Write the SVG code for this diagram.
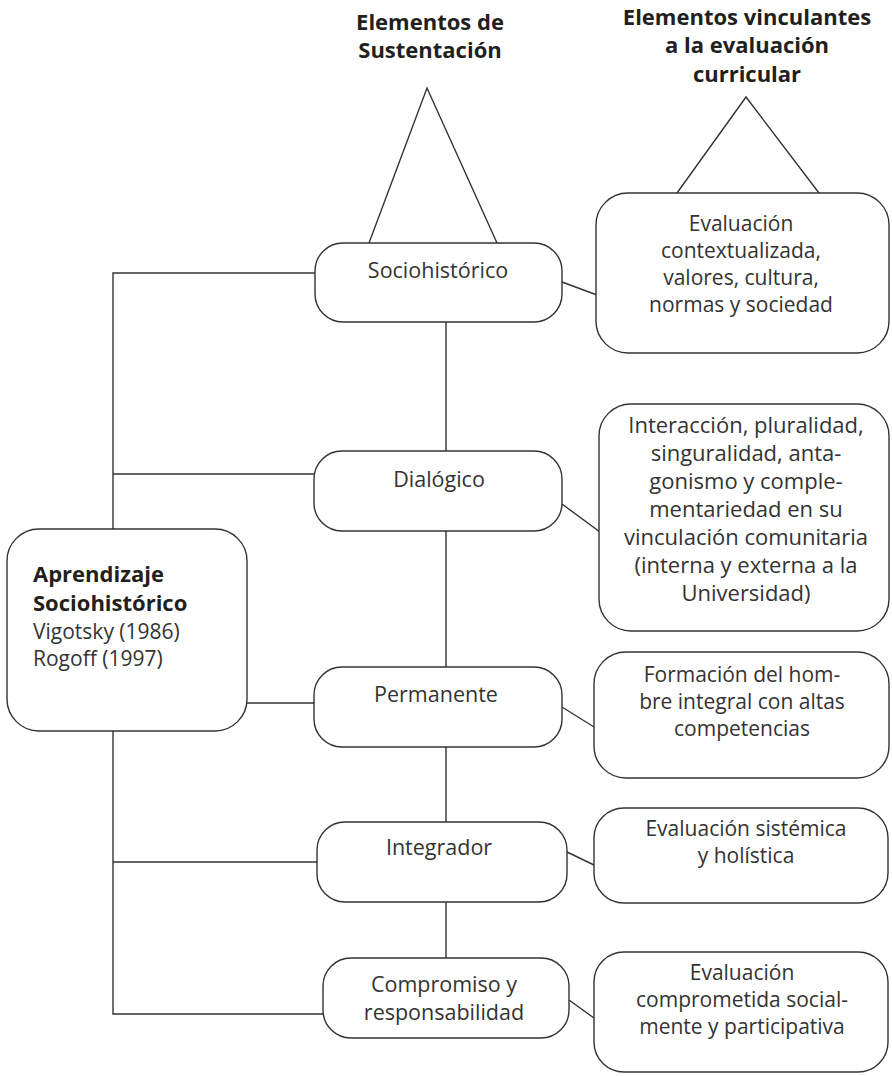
<svg xmlns="http://www.w3.org/2000/svg" width="892" height="1076" viewBox="0 0 892 1076">
<style>
.box{fill:#fff;stroke:#333;stroke-width:1.4}
.ln{fill:none;stroke:#333;stroke-width:1.4}
text{font-family:"Open Sans","Liberation Sans",sans-serif;fill:#333;font-size:21.5px}
.r{font-size:21px}
.r2{font-size:22px}
.s{font-size:21px}
.b{font-weight:bold;font-size:22px;fill:#231f20}
.c{text-anchor:middle}
</style>
<rect width="892" height="1076" fill="#fff"/>
<g id="connectors">
<polyline class="ln" points="369,243 427,88 497,243"/>
<polyline class="ln" points="677,193 746,97 819,193"/>
<path class="ln" d="M315,273 H113 V529 M113,474 H314 M113,731 V1014 H323 M113,862 H317 M247,703 H314"/>
<path class="ln" d="M446,322 V451 M446,531 V667 M446,747 V822 M446,902 V958"/>
<path class="ln" d="M562,282 L597,295 M562,504 L600,532 M562,707 L594,727 M567,852 L594,865 M569,1000 L594,1018"/>
</g>
<g id="title-left">
<text class="b c" x="430" y="30">Elementos de</text>
<text class="b c" x="430" y="58">Sustentación</text>
</g>
<g id="title-right">
<text class="b c" x="747" y="25">Elementos vinculantes</text>
<text class="b c" x="747" y="53">a la evaluación</text>
<text class="b c" x="747" y="82">curricular</text>
</g>
<g id="root">
<rect class="box" x="7" y="529" width="240" height="202" rx="32"/>
<text class="b" x="33" y="582">Aprendizaje</text>
<text class="b" x="33" y="611">Sociohistórico</text>
<text class="s" x="33" y="639">Vigotsky (1986)</text>
<text class="s" x="33" y="666">Rogoff (1997)</text>
</g>
<g id="sociohistorico">
<rect class="box" x="315" y="243" width="247" height="79" rx="28"/>
<text class="c" x="438" y="278">Sociohistórico</text>
</g>
<g id="dialogico">
<rect class="box" x="314" y="451" width="248" height="80" rx="28"/>
<text class="c" x="439" y="487">Dialógico</text>
</g>
<g id="permanente">
<rect class="box" x="314" y="667" width="248" height="80" rx="28"/>
<text class="c" x="436" y="702">Permanente</text>
</g>
<g id="integrador">
<rect class="box" x="317" y="822" width="250" height="80" rx="28"/>
<text class="c" x="439" y="855">Integrador</text>
</g>
<g id="compromiso">
<rect class="box" x="323" y="958" width="246" height="80" rx="28"/>
<text class="c" x="444" y="992">Compromiso y</text>
<text class="c" x="444" y="1020">responsabilidad</text>
</g>
<g id="eval-contextualizada">
<rect class="box" x="596" y="193" width="293" height="160" rx="32"/>
<text class="c r" x="741" y="231">Evaluación</text>
<text class="c r" x="741" y="258">contextualizada,</text>
<text class="c r" x="741" y="285">valores, cultura,</text>
<text class="c r" x="741" y="312">normas y sociedad</text>
</g>
<g id="interaccion">
<rect class="box" x="599" y="404" width="290" height="227" rx="32"/>
<text class="c r2" x="746" y="433">Interacción, pluralidad,</text>
<text class="c r2" x="746" y="461">singuralidad, anta-</text>
<text class="c r2" x="746" y="489">gonismo y comple-</text>
<text class="c r2" x="746" y="517">mentariedad en su</text>
<text class="c r2" x="746" y="545">vinculación comunitaria</text>
<text class="c r2" x="746" y="573">(interna y externa a la</text>
<text class="c r2" x="746" y="601">Universidad)</text>
</g>
<g id="formacion">
<rect class="box" x="594" y="652" width="295" height="126" rx="32"/>
<text class="c r" x="742" y="682">Formación del hom-</text>
<text class="c r" x="742" y="709">bre integral con altas</text>
<text class="c r" x="742" y="736">competencias</text>
</g>
<g id="sistemica">
<rect class="box" x="594" y="808" width="294" height="95" rx="30"/>
<text class="c r" x="746" y="836">Evaluación sistémica</text>
<text class="c r" x="746" y="863">y holística</text>
</g>
<g id="comprometida">
<rect class="box" x="594" y="952" width="294" height="120" rx="30"/>
<text class="c r" x="742" y="980">Evaluación</text>
<text class="c r" x="742" y="1007">comprometida social-</text>
<text class="c r" x="742" y="1034">mente y participativa</text>
</g>
</svg>
